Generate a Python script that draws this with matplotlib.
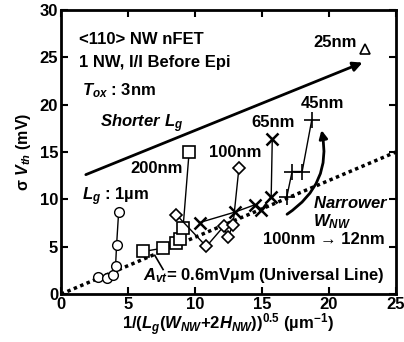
import matplotlib
matplotlib.use("Agg")
import matplotlib.pyplot as plt
from matplotlib.patches import FancyArrowPatch
import numpy as np

plt.rcParams['font.family'] = ['Liberation Sans', 'DejaVu Sans']
plt.rcParams['font.weight'] = 'bold'
plt.rcParams['mathtext.fontset'] = 'custom'
plt.rcParams['mathtext.rm'] = 'Liberation Sans:bold'
plt.rcParams['mathtext.it'] = 'Liberation Sans:bold:italic'
plt.rcParams['mathtext.bf'] = 'Liberation Sans:bold'

# Data (x: 1/sqrt(Lg(W+2H)) um^-1, y: sigma Vth mV)
lg1um_x = [2.73, 3.45, 3.90, 4.07, 4.15, 4.30]
lg1um_y = [1.79, 1.69, 2.00, 2.92, 5.20, 8.62]
lg200_x = [6.13, 7.62, 8.56, 8.86, 9.11, 9.56]
lg200_y = [4.50, 4.85, 5.38, 5.87, 7.00, 14.95]
lg100_x = [8.62, 10.85, 12.14, 12.46, 12.84, 13.28]
lg100_y = [8.37, 5.03, 7.14, 6.01, 7.30, 13.30]
lg65_x = [10.36, 12.96, 14.45, 14.90, 15.69, 15.77]
lg65_y = [7.56, 8.65, 9.42, 8.83, 10.30, 16.36]
lg45_x = [16.86, 17.25, 18.00, 18.72]
lg45_y = [10.30, 12.94, 12.94, 18.40]
lg25_x = [22.7]
lg25_y = [25.85]
avt = 0.6
xticks = [0, 5, 10, 15, 20, 25]
yticks = [0, 5, 10, 15, 20, 25, 30]

fig = plt.figure(figsize=(4.04, 3.42), dpi=100)
ax = fig.add_axes([0.151, 0.140, 0.829, 0.831])

# universal line
xl = np.array([0, 25])
ax.plot(xl, avt * xl, ls=(0, (1, 1)), color='black', lw=2.5, zorder=2)

kw = dict(color='black', lw=1.0, mfc='white', mec='black', zorder=3)
ax.plot(lg1um_x, lg1um_y, marker='o', ms=7, mew=1.0, **kw)
ax.plot(lg200_x, lg200_y, marker='s', ms=8, mew=1.2, **kw)
ax.plot(lg100_x, lg100_y, marker='D', ms=6, mew=1.2, **kw)
ax.plot(lg65_x, lg65_y, marker='x', ms=9, mew=1.8, **kw)
ax.plot(lg45_x, lg45_y, marker='+', ms=11, mew=1.2, **kw)
ax.plot(lg25_x, lg25_y, marker='^', ms=7, mew=1.2, **kw)

# big arrow
ax.add_patch(FancyArrowPatch((1.66, 12.5), (22.7, 24.55), arrowstyle='-|>',
                             mutation_scale=14, lw=2, color='black', zorder=4))
# curved arrow
ax.add_patch(FancyArrowPatch((16.7, 8.27), (19.4, 17.6), arrowstyle='-|>',
                             connectionstyle='arc3,rad=0.35',
                             mutation_scale=12, lw=2, color='black', zorder=4))
# pointer to line
ax.plot([7.0, 7.62], [4.1, 2.6], color='black', lw=1.2)

fs = 12
ax.text(1.34, 26.9, '<110> NW nFET', fontsize=fs, fontweight='bold', va='center')
ax.text(1.34, 24.4, '1 NW, I/I Before Epi', fontsize=fs, fontweight='bold', va='center')
ax.text(1.54, 21.5, '$T_{ox}$ : 3nm', fontsize=fs, fontweight='bold', va='center')
ax.text(2.9, 18.0, '$Shorter\\ L_g$', fontsize=fs, va='center')
ax.text(7.1, 13.3, '200nm', fontsize=fs, fontweight='bold', va='center', ha='center')
ax.text(1.54, 10.3, '$L_g$ : 1µm', fontsize=fs, fontweight='bold', va='center')
ax.text(13.0, 15.0, '100nm', fontsize=fs, fontweight='bold', va='center', ha='center')
ax.text(15.8, 18.1, '65nm', fontsize=fs, fontweight='bold', va='center', ha='center')
ax.text(19.5, 20.15, '45nm', fontsize=fs, fontweight='bold', va='center', ha='center')
ax.text(22.1, 26.6, '25nm', fontsize=fs, fontweight='bold', va='center', ha='right')
ax.text(18.8, 9.67, '$Narrower$', fontsize=fs, va='center')
ax.text(18.8, 7.6, '$W_{NW}$', fontsize=fs, va='center')
ax.text(15.07, 5.73, '100nm → 12nm', fontsize=fs, fontweight='bold', va='center')
ax.text(6.13, 2.0, '$A_{vt}$= 0.6mVµm (Universal Line)', fontsize=fs, fontweight='bold', va='center')

ax.set_xlim(0, 25)
ax.set_ylim(0, 30)
ax.set_xticks(xticks)
ax.set_yticks(yticks)
ax.tick_params(direction='in', top=True, right=True, length=5, width=1.5,
               labelsize=12, pad=2)
for lab in ax.get_xticklabels() + ax.get_yticklabels():
    lab.set_fontweight('bold')
for s in ax.spines.values():
    s.set_linewidth(2)

ax.set_xlabel('1/($L_g$($W_{NW}$+2$H_{NW}$))$^{0.5}$ (µm$^{-1}$)', fontsize=12,
              fontweight='bold', labelpad=0)
ax.set_ylabel('σ $V_{th}$ (mV)', fontsize=11.5, fontweight='bold', labelpad=5)

fig.savefig('out.png', dpi=100)
